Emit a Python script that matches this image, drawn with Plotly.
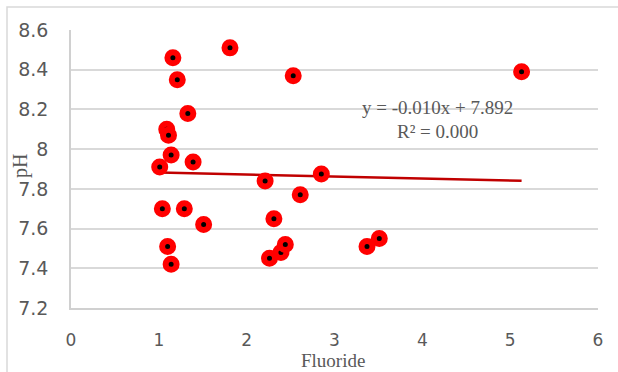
import plotly.graph_objects as go
import numpy as np

fluoride = [1.81, 1.16, 1.21, 2.53, 5.13, 1.33, 1.09, 1.11, 1.14, 1.01, 1.39,
            2.21, 2.61, 2.85, 1.04, 1.29, 1.51, 2.31, 1.10, 1.14, 2.26, 2.39,
            2.44, 3.37, 3.51]
ph = [8.51, 8.46, 8.35, 8.37, 8.39, 8.18, 8.10, 8.07, 7.97, 7.91, 7.935,
      7.84, 7.77, 7.875, 7.70, 7.70, 7.62, 7.65, 7.51, 7.42, 7.45, 7.48,
      7.52, 7.51, 7.55]
slope, intercept = -0.010, 7.892
eq_line1 = "y = -0.010x + 7.892"
eq_line2 = "R² = 0.000"
x_ticks = [0, 1, 2, 3, 4, 5, 6]
y_ticks = [7.2, 7.4, 7.6, 7.8, 8.0, 8.2, 8.4, 8.6]
y_tick_labels = ["7.2", "7.4", "7.6", "7.8", "8", "8.2", "8.4", "8.6"]

tx = np.array([min(fluoride), max(fluoride)])
ty = slope * tx + intercept

fig = go.Figure()
fig.add_trace(go.Scatter(x=tx, y=ty, mode="lines",
                         line=dict(color="#C00000", width=2.5), showlegend=False))
fig.add_trace(go.Scatter(x=fluoride, y=ph, mode="markers",
                         marker=dict(size=11, color="black",
                                     line=dict(color="#FF0000", width=6)),
                         showlegend=False))

serif = dict(family="Liberation Serif", size=19, color="#595959")
fig.update_layout(
    width=618, height=372,
    margin=dict(l=71, r=20, t=30, b=64),
    paper_bgcolor="white", plot_bgcolor="white",
    xaxis=dict(range=[0, 6], tickvals=x_ticks, showgrid=False, zeroline=False,
               showline=True, linecolor="#D0D0D0", linewidth=1.5,
               tickfont=dict(family="DejaVu Sans", size=17, color="#595959"),
               ticks="outside", ticklen=0, ticklabelstandoff=16),
    yaxis=dict(range=[7.2, 8.6], tickvals=y_ticks, ticktext=y_tick_labels,
               showgrid=True, gridcolor="#D9D9D9", gridwidth=1.5, zeroline=False,
               showline=True, linecolor="#D0D0D0", linewidth=1.5,
               tickfont=dict(family="DejaVu Sans", size=19, color="#595959"),
               ticks="outside", ticklen=0, ticklabelstandoff=17),
    annotations=[
        dict(text=eq_line1, xref="x", yref="y", x=4.167, y=8.212, showarrow=False,
             font=serif, yanchor="middle"),
        dict(text=eq_line2, xref="x", yref="y", x=4.167, y=8.090, showarrow=False,
             font=serif, yanchor="middle"),
        dict(text="Fluoride", xref="paper", yref="paper", x=(333 - 71) / 527,
             y=-(360 - 308) / 278, showarrow=False, yanchor="middle",
             font=dict(family="Liberation Serif", size=19, color="#595959")),
        dict(text="pH", xref="paper", yref="paper", x=(20 - 71) / 527,
             y=(308 - 166) / 278, showarrow=False, textangle=-90,
             xanchor="center", yanchor="middle",
             font=dict(family="Liberation Serif", size=20, color="#595959")),
    ],
    shapes=[
        dict(type="rect", xref="paper", yref="paper",
             x0=(7 - 71) / 527, x1=(618 - 71 + 5) / 527,
             y0=-(372 - 308 + 5) / 278, y1=1 + 23 / 278,
             line=dict(color="#D9D9D9", width=1.5), fillcolor="rgba(0,0,0,0)",
             layer="below"),
    ],
)

fig.write_html("out.html", config={"displayModeBar": False},
               post_script="document.body.style.margin='0';document.body.style.overflow='hidden';")
